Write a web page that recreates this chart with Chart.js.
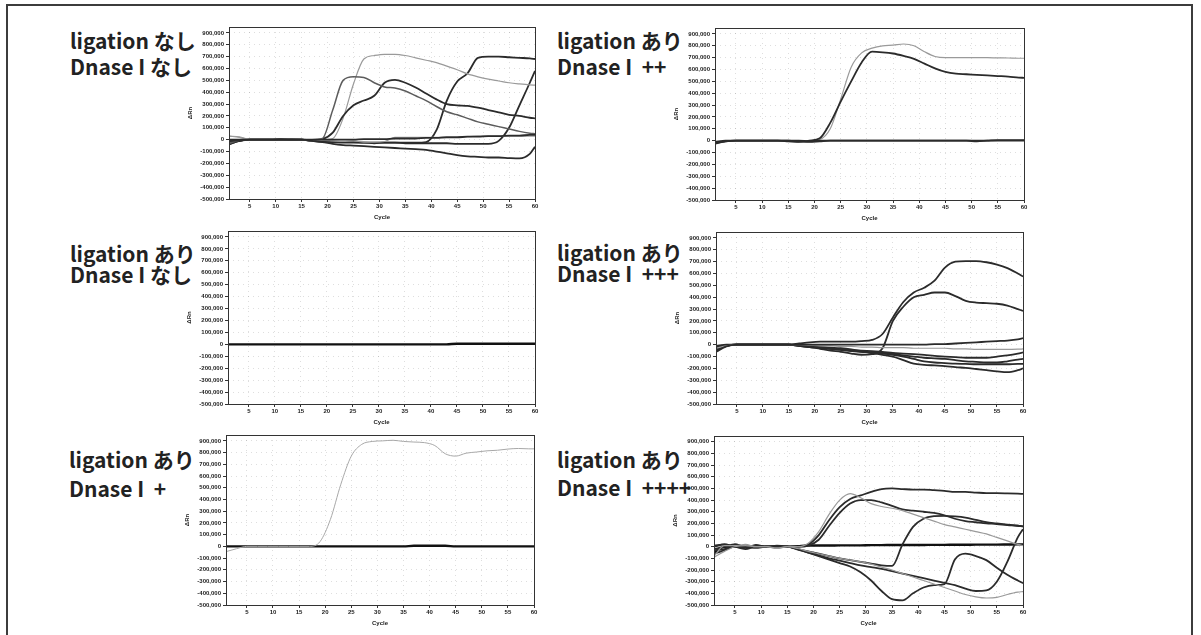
<!DOCTYPE html>
<html>
<head>
<meta charset="utf-8">
<script src="https://cdn.jsdelivr.net/npm/chart.js@4.4.1/dist/chart.umd.min.js"></script>
<style>
body { margin: 0; width: 1201px; height: 635px; overflow: hidden; background: #fff; position: relative; font-family: "Noto Sans CJK JP", sans-serif; }
.frame { position: absolute; left: 6px; top: 4px; width: 1183px; height: 700px; border: 2px solid #3c3c3c; }
.lbl { position: absolute; font-weight: bold; font-size: 21px; line-height: 21px; color: #222; white-space: pre; }
canvas { position: absolute; }
</style>
</head>
<body>
<div class="frame"></div>
<script>
// --- DATA (ΔRn in thousands, read at these cycles) ---
const cycles = [1,3,5,7,9,11,13,15,17,19,21,23,25,27,29,31,33,35,37,39,41,43,45,47,49,51,53,55,57,59,60];
const xTicks = [5,10,15,20,25,30,35,40,45,50,55,60];
const yTicks = [-500,-400,-300,-200,-100,0,100,200,300,400,500,600,700,800,900];

// ligation なし / Dnase I なし
const p1Early   = [-30,-5,0,0,0,0,5,0,0,10,250,500,530,525,480,445,435,410,370,330,280,235,210,180,150,130,110,90,70,55,50];
const p1TwoStep = [-40,-10,0,0,0,0,0,0,-5,5,60,200,290,330,370,480,505,480,440,390,340,300,290,285,270,250,230,210,200,185,180];
const p1High    = [30,25,0,0,0,0,0,0,0,0,10,180,470,680,710,720,720,710,690,670,650,620,590,555,530,510,495,480,470,462,460];
const p1Late    = [-20,-10,0,0,0,5,0,0,-10,-15,-20,-25,-25,-25,-30,-25,-25,-25,-25,-20,80,330,490,560,690,700,700,695,690,685,680];
const p1Latest  = [-35,-10,0,0,0,0,0,0,-10,-15,-20,-20,-20,-25,-25,-25,-25,-30,-30,-30,-30,-30,-35,-35,-35,-35,-10,100,290,480,580];
const p1Down    = [-10,-5,0,0,0,0,0,0,-10,-20,-35,-45,-50,-55,-60,-65,-70,-75,-80,-85,-100,-115,-130,-140,-145,-150,-150,-155,-158,-120,-60];
const p1Flat    = [0,0,0,0,0,0,0,0,0,0,0,0,0,5,5,5,10,10,10,15,15,20,20,25,25,30,30,35,35,40,40];
const p1Flat2   = [30,20,0,0,0,0,0,0,-10,-5,-10,-15,-10,-20,-20,-15,20,20,20,20,20,25,25,25,30,30,30,30,30,30,30];

// ligation あり / Dnase I ++
const p2Dark  = [-20,-5,0,0,0,0,0,-5,-10,0,20,150,330,500,660,750,745,735,715,690,650,610,580,565,560,555,550,545,540,532,530];
const p2Light = [-15,-5,0,0,0,0,0,-5,-10,0,10,100,350,620,740,780,800,805,815,800,750,710,700,700,700,700,700,698,697,695,695];
const p2Base1 = [-25,-5,0,0,0,0,0,0,-5,-10,-5,0,0,0,0,0,0,0,0,0,0,0,0,0,0,-5,0,5,5,5,5];
const p2Base2 = [-10,0,0,0,0,0,0,0,0,-5,0,0,0,0,0,0,0,0,0,0,0,0,0,0,0,0,0,0,0,0,0];

// ligation あり / Dnase I なし
const p3Base = [0,0,0,0,0,0,0,0,0,0,0,0,0,0,0,0,0,0,0,0,0,0,5,5,5,5,5,5,5,5,5];

// ligation あり / Dnase I +++
const p4A = [-40,-10,0,0,0,0,0,0,10,20,25,25,25,25,30,40,90,230,360,440,480,540,650,700,705,705,695,675,645,600,575];
const p4B = [-50,-10,0,0,0,0,0,0,-10,-20,-35,-50,-60,-75,-85,-80,-30,200,320,400,420,440,440,410,370,355,350,345,330,300,285];
const p4C = [-60,-15,0,0,0,0,0,0,0,0,0,0,0,0,0,0,0,0,0,0,0,5,5,10,15,20,25,30,35,45,55];
const p4D = [-30,-10,0,0,0,0,0,0,0,-5,-10,-10,-15,-15,-20,-20,-25,-25,-25,-30,-30,-30,-30,-35,-35,-40,-40,-40,-40,-38,-36];
const p4E = [-20,-5,0,0,0,0,0,0,-5,-10,-20,-30,-40,-45,-50,-55,-60,-70,-75,-80,-85,-95,-100,-105,-110,-110,-110,-100,-90,-75,-65];
const p4F = [-10,0,0,0,0,0,0,0,-5,-15,-25,-35,-45,-55,-60,-65,-70,-80,-90,-100,-110,-115,-120,-130,-140,-145,-150,-150,-140,-125,-120];
const p4G = [-30,-5,0,0,0,0,0,0,-10,-20,-25,-35,-40,-50,-60,-70,-75,-85,-100,-120,-140,-150,-155,-160,-162,-165,-165,-165,-165,-162,-162];
const p4H = [-50,-10,0,0,0,0,0,0,-10,-15,-20,-25,-30,-40,-55,-70,-85,-100,-130,-160,-170,-175,-180,-190,-195,-205,-215,-225,-232,-215,-200];

// ligation あり / Dnase I +
const p5Curve = [-45,-20,0,0,0,0,0,0,0,40,230,530,770,870,895,900,905,895,890,885,860,790,770,795,805,815,820,830,835,832,832];
const p5Base  = [0,0,0,0,0,0,0,0,0,0,0,0,0,0,0,0,0,0,5,5,5,5,0,0,0,0,0,0,0,0,0];

// ligation あり / Dnase I ++++
const p6A = [-60,-30,0,-10,15,0,0,0,0,20,100,230,340,410,440,470,495,500,495,490,490,485,480,470,470,465,460,460,458,455,453];
const p6B = [-80,10,10,20,0,0,-10,0,0,30,130,280,400,455,420,370,345,330,310,280,250,220,190,170,150,130,110,80,50,20,10];
const p6C = [-30,-20,20,0,10,0,0,0,0,10,60,180,290,370,400,400,380,350,320,310,300,290,270,240,220,210,200,195,185,180,175];
const p6D = [0,20,0,-20,0,0,10,0,-20,-40,-60,-80,-100,-115,-130,-145,-160,-165,20,170,240,262,265,260,250,230,210,200,190,180,175];
const p6E = [-20,0,20,0,0,0,0,0,-20,-50,-80,-110,-140,-170,-220,-290,-380,-450,-460,-400,-350,-330,-320,-110,-60,-80,-115,-180,-240,-290,-313];
const p6F = [10,20,0,0,-10,0,0,0,-25,-50,-75,-100,-120,-140,-160,-175,-190,-210,-230,-250,-270,-290,-310,-330,-360,-380,-375,-300,-130,80,150];
const p6G = [-90,-40,0,10,0,0,-15,0,-15,-40,-60,-80,-100,-115,-130,-150,-175,-200,-230,-260,-290,-320,-350,-380,-410,-430,-440,-435,-410,-390,-385];
const p6H = [-50,0,0,0,0,0,0,0,5,10,10,10,12,12,12,14,14,15,15,15,15,16,16,17,17,18,18,18,19,20,20];

// --- STYLES / LAYOUT ---
const styles = {
    dark:  { color: '#2b2b2b', width: 1.8 },
    mid:   { color: '#5c5c5c', width: 1.5 },
    light: { color: '#9a9a9a', width: 1.2 },
    pale:  { color: '#a8a8a8', width: 1.0 },
    base:  { color: '#111111', width: 2.4 }
};

const panels = [
    { plot: [229, 27, 535, 199], title: ['ligation なし', 'Dnase I なし'], tx: 70, ty: [30, 56],
      lines: [[p1Down,'dark'],[p1Flat,'dark'],[p1Flat2,'light'],[p1Early,'mid'],[p1TwoStep,'dark'],[p1High,'light'],[p1Late,'dark'],[p1Latest,'dark']] },
    { plot: [715, 28, 1024, 200], title: ['ligation あり', 'Dnase I  ++'], tx: 557, ty: [30, 56],
      lines: [[p2Base1,'dark'],[p2Base2,'dark'],[p2Dark,'dark'],[p2Light,'light']] },
    { plot: [228, 231, 535, 404], title: ['ligation あり', 'Dnase I なし'], tx: 70, ty: [243, 264],
      lines: [[p3Base,'base']] },
    { plot: [716, 232, 1023, 404], title: ['ligation あり', 'Dnase I  +++'], tx: 557, ty: [242, 263],
      lines: [[p4C,'dark'],[p4D,'light'],[p4E,'dark'],[p4F,'dark'],[p4G,'dark'],[p4H,'dark'],[p4B,'dark'],[p4A,'dark']] },
    { plot: [226, 435, 534, 605], title: ['ligation あり', 'Dnase I  +'], tx: 69, ty: [449, 478],
      lines: [[p5Curve,'pale'],[p5Base,'base']] },
    { plot: [714, 436, 1023, 605], title: ['ligation あり', 'Dnase I  ++++'], tx: 557, ty: [449, 477],
      lines: [[p6B,'light'],[p6G,'light'],[p6A,'dark'],[p6C,'dark'],[p6D,'dark'],[p6E,'dark'],[p6F,'dark'],[p6H,'base']] }
];

// draw the box round the plot area
const plotFrame = {
    id: 'plotFrame',
    afterDatasetsDraw(chart) {
        const a = chart.chartArea, ctx = chart.ctx;
        ctx.save();
        ctx.strokeStyle = '#333';
        ctx.lineWidth = 1;
        ctx.strokeRect(Math.round(a.left) + 0.5, Math.round(a.top) + 0.5, Math.round(a.right - a.left), Math.round(a.bottom - a.top));
        ctx.restore();
    }
};

const tickFont = { family: '"Liberation Sans", Arial, sans-serif', size: 6, weight: 'bold' };

panels.forEach(p => {
    const [L, T, R, B] = p.plot;
    const padL = 46, padT = 6, padR = 6, padB = 26;

    p.title.forEach((t, i) => {
        const d = document.createElement('div');
        d.className = 'lbl';
        d.textContent = t;
        d.style.left = p.tx + 'px';
        d.style.top = p.ty[i] + 'px';
        document.body.appendChild(d);
    });

    const cv = document.createElement('canvas');
    cv.width = (R - L) + padL + padR;
    cv.height = (B - T) + padT + padB;
    cv.style.left = (L - padL) + 'px';
    cv.style.top = (T - padT) + 'px';
    document.body.appendChild(cv);

    new Chart(cv, {
        type: 'line',
        data: {
            datasets: p.lines.map(([vals, st]) => ({
                data: vals.map((v, i) => ({ x: cycles[i], y: v })),
                borderColor: styles[st].color,
                borderWidth: styles[st].width,
                pointRadius: 0,
                fill: false,
                cubicInterpolationMode: 'monotone'
            }))
        },
        options: {
            responsive: false,
            animation: false,
            devicePixelRatio: 1,
            layout: { padding: { left: 0, top: padT, right: padR, bottom: 0 } },
            plugins: { legend: { display: false }, tooltip: { enabled: false } },
            scales: {
                x: {
                    type: 'linear', min: 1, max: 60,
                    afterBuildTicks: s => { s.ticks = xTicks.map(v => ({ value: v })); },
                    afterFit: s => { s.height = padB; },
                    ticks: { font: tickFont, color: '#222', padding: 1, maxRotation: 0, autoSkip: false },
                    grid: { color: 'rgba(0,0,0,0.13)', tickColor: '#333', tickLength: 3, tickBorderDash: [] },
                    border: { display: false, dash: [1, 4] },
                    title: { display: true, text: 'Cycle', font: tickFont, color: '#222', padding: { top: 1, bottom: 4 } }
                },
                y: {
                    type: 'linear', min: -500, max: 950,
                    afterBuildTicks: s => { s.ticks = yTicks.map(v => ({ value: v })); },
                    afterFit: s => { s.width = padL; },
                    ticks: { font: tickFont, color: '#222', padding: 2, autoSkip: false,
                             callback: v => (v * 1000).toLocaleString('en-US') },
                    grid: { color: 'rgba(0,0,0,0.13)', tickColor: '#333', tickLength: 3, tickBorderDash: [] },
                    border: { display: false, dash: [1, 4] },
                    title: { display: true, text: 'ΔRn', font: tickFont, color: '#222', padding: { top: 4, bottom: 2 } }
                }
            }
        },
        plugins: [plotFrame]
    });
});
</script>
</body>
</html>
